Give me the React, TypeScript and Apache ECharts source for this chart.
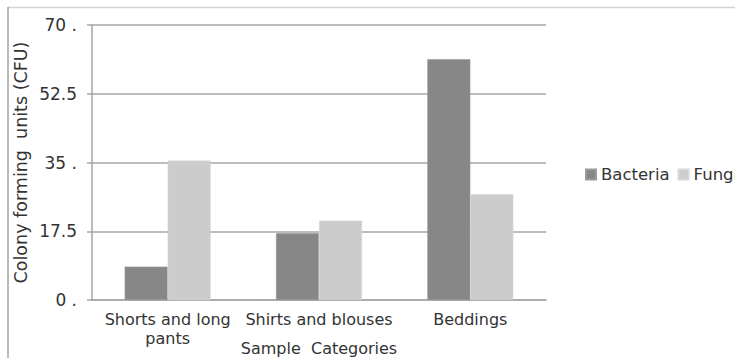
import React, { useEffect, useRef } from "react";
import * as echarts from "echarts";

const categories = ["Shorts and long\npants", "Shirts and blouses", "Beddings"];
const bacteria = [8.5, 17.0, 61.3];
const fungi = [35.5, 20.2, 26.9];
const seriesNames = ["Bacteria", "Fungi"];
const yTicks = { min: 0, max: 70, interval: 17.5 };

const FONT = "DejaVu Sans";
const TEXT = "#333333";
const GRID = "#a6a6a6";

export default function App() {
  const ref = useRef<HTMLDivElement>(null);

  useEffect(() => {
    if (!ref.current) return;
    const chart = echarts.init(ref.current, undefined, { renderer: "svg" });
    chart.setOption({
      animation: false,
      backgroundColor: "#ffffff",
      textStyle: { fontFamily: FONT, color: TEXT },
      grid: { left: 92, right: 189, top: 25, bottom: 58, outerBoundsMode: "none" },
      legend: {
        left: 580,
        top: 161,
        width: 400,
        orient: "horizontal",
        itemWidth: 10,
        itemHeight: 10,
        itemGap: 8,
        icon: "rect",
        textStyle: { fontFamily: FONT, fontSize: 16.5, color: TEXT },
        data: seriesNames,
      },
      xAxis: {
        type: "category",
        data: categories,
        name: "Sample  Categories",
        nameLocation: "middle",
        nameGap: 40,
        nameMoveOverlap: false,
        nameTextStyle: { fontFamily: FONT, fontSize: 16, color: TEXT },
        axisLine: { lineStyle: { color: GRID, width: 1.5 } },
        axisTick: { show: false },
        axisLabel: {
          fontFamily: FONT,
          fontSize: 16,
          color: TEXT,
          margin: 10,
          lineHeight: 19,
          interval: 0,
        },
      },
      yAxis: {
        type: "value",
        min: yTicks.min,
        max: yTicks.max,
        interval: yTicks.interval,
        name: "Colony forming  units (CFU)",
        nameLocation: "middle",
        nameGap: 62,
        nameMoveOverlap: false,
        nameTextStyle: { fontFamily: FONT, fontSize: 17.5, color: TEXT },
        axisLine: { show: true, lineStyle: { color: GRID, width: 1.5 } },
        axisTick: { show: true, length: 5, lineStyle: { color: GRID, width: 1.5 } },
        splitLine: { lineStyle: { color: GRID, width: 1.5 } },
        axisLabel: {
          fontFamily: FONT,
          fontSize: 17,
          color: TEXT,
          margin: 15,
          formatter: (v: number) => (Number.isInteger(v) ? `${v} .` : `${v}`),
        },
      },
      series: [
        {
          name: seriesNames[0],
          type: "bar",
          data: bacteria,
          barWidth: 43,
          barGap: "0%",
          itemStyle: { color: "#878787", borderColor: "#9a9a9a", borderWidth: 0.6 },
        },
        {
          name: seriesNames[1],
          type: "bar",
          data: fungi,
          barWidth: 43,
          itemStyle: { color: "#cccccc", borderColor: "#d8d8d8", borderWidth: 0.6 },
        },
      ],
      graphic: [
        {
          type: "line",
          shape: { x1: 8, y1: 7.5, x2: 735, y2: 7.5 },
          style: { stroke: "#d4d4d4", lineWidth: 1.5 },
          silent: true,
        },
        {
          type: "line",
          shape: { x1: 8, y1: 7, x2: 8, y2: 358 },
          style: { stroke: "#8c8c8c", lineWidth: 1.2 },
          silent: true,
        },
      ],
    });
    return () => chart.dispose();
  }, []);

  return (
    <div
      ref={ref}
      style={{ position: "absolute", left: 0, top: 0, width: 735, height: 358 }}
    />
  );
}
